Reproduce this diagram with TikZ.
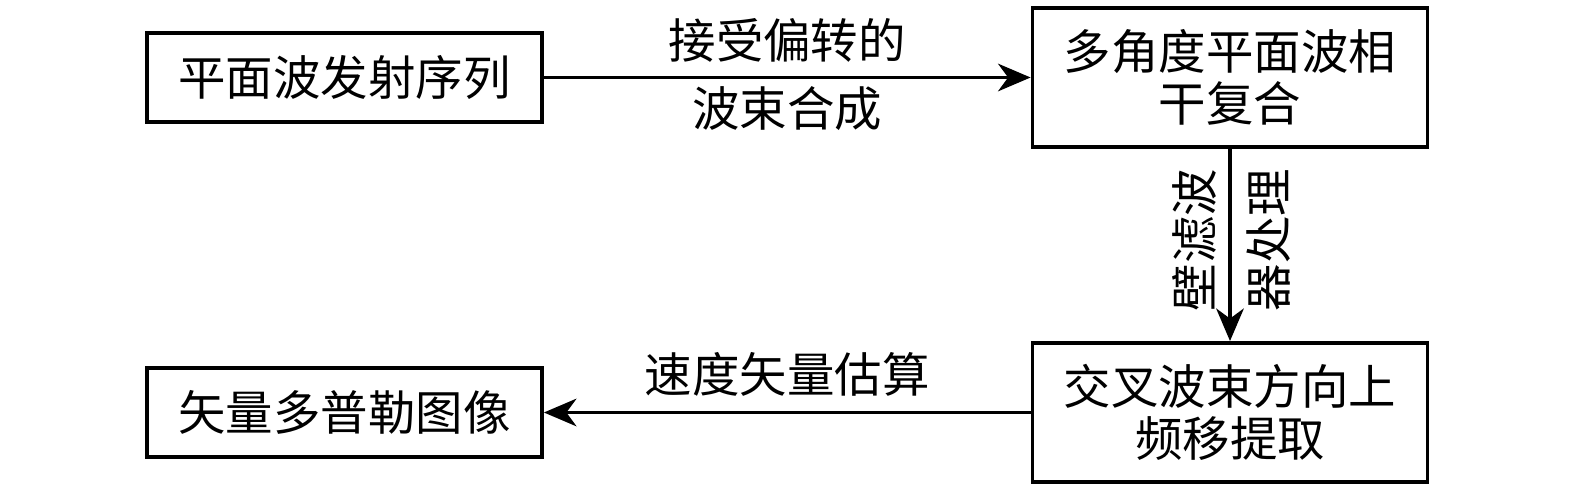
\documentclass[tikz,border=0pt]{standalone}
\usepackage{fontspec}
\setmainfont{Noto Sans CJK SC}
\usetikzlibrary{positioning}
\usetikzlibrary{arrows.meta}

\begin{document}
\begin{tikzpicture}[x=0.02cm, y=-0.02cm,
  box/.style={draw, line width=2.2pt, minimum width=7.9cm, align=center, inner sep=0pt,
    font=\fontsize{27pt}{30pt}\selectfont},
  arr/.style={line width=2.2pt, -{Stealth[length=0.65cm, width=0.55cm, inset=0.2cm]}},
  lbl/.style={font=\fontsize{27pt}{30pt}\selectfont, inner sep=0pt}]
\useasboundingbox (0,0) rectangle (1575,492);
\node [box, minimum height=1.78cm] (emit) at (344.5,77.5) {平面波发射序列};
\node [box, minimum height=2.78cm] (comp) at (1230,77.5) {多角度平面波相\\干复合};
\node [box, minimum height=2.78cm] (shift) at (1230,412.5) {交叉波束方向上\\频移提取};
\node [box, minimum height=1.78cm] (vfi) at (344.5,412.5) {矢量多普勒图像};
\draw [arr] (emit) -- node[lbl, above=0.26cm] {接受偏转的} node[lbl, below=0.14cm] {波束合成} (comp);
\draw [arr] (comp) -- node[lbl, rotate=90, anchor=south, yshift=0.23cm, xshift=0.1cm] {壁滤波}
  node[lbl, rotate=90, anchor=north, yshift=-0.29cm, xshift=0.1cm] {器处理} (shift);
\draw [arr] (shift) -- node[lbl, above=0.29cm] {速度矢量估算} (vfi);
\end{tikzpicture}
\end{document}
